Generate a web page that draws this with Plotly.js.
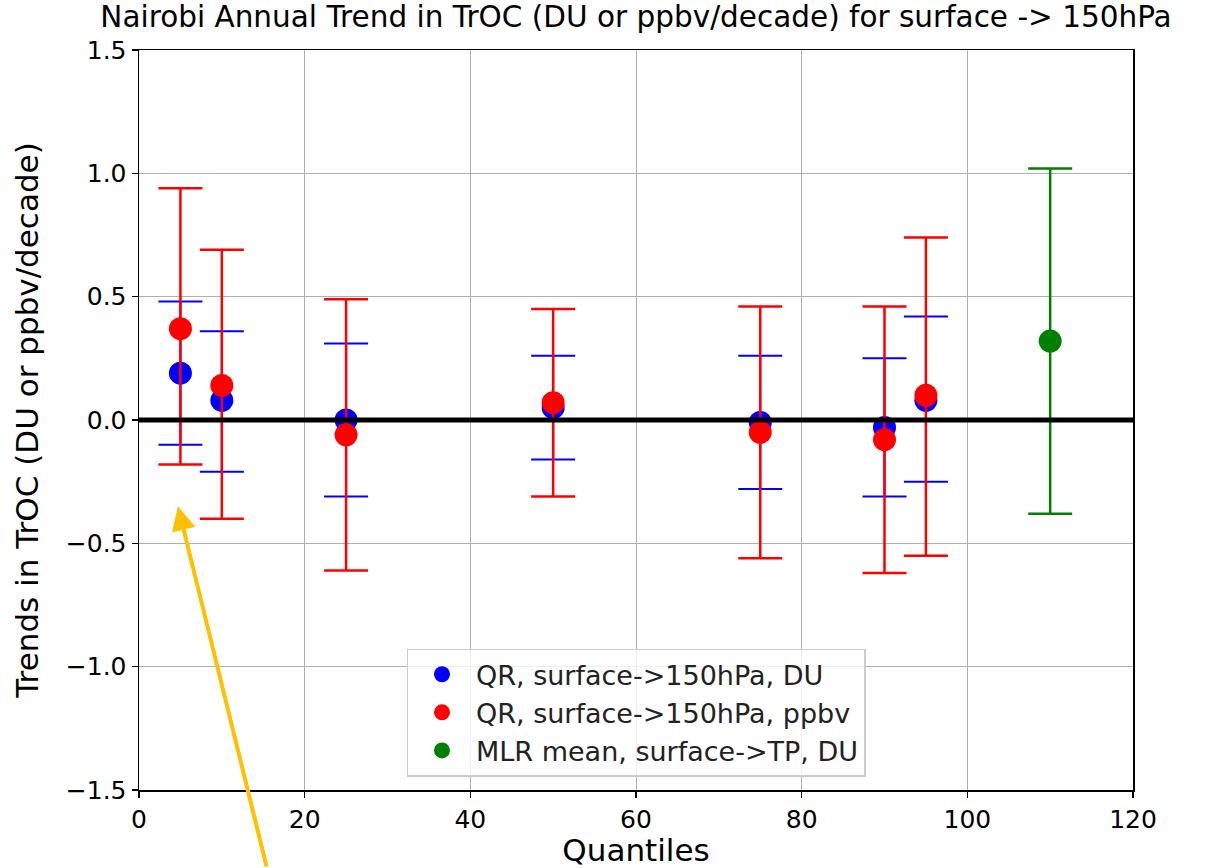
<!DOCTYPE html>
<html>
<head>
<meta charset="utf-8">
<script src="https://cdn.plot.ly/plotly-3.0.1.min.js"></script>
<style>html,body{margin:0;padding:0;background:#fff;}#chart{width:1206px;height:868px;}</style>
</head>
<body>
<div id="chart"></div>
<script>
// Quantile positions
const quantiles = [5, 10, 25, 50, 75, 90, 95];

// QR, surface->150hPa, DU
const duTrend = [0.19, 0.08, 0.00, 0.05, -0.01, -0.03, 0.08];
const duUpper = [0.48, 0.36, 0.31, 0.26, 0.26, 0.25, 0.42];
const duLower = [-0.10, -0.21, -0.31, -0.16, -0.28, -0.31, -0.25];

// QR, surface->150hPa, ppbv
const ppbvTrend = [0.37, 0.14, -0.06, 0.07, -0.05, -0.08, 0.10];
const ppbvUpper = [0.94, 0.69, 0.49, 0.45, 0.46, 0.46, 0.74];
const ppbvLower = [-0.18, -0.40, -0.61, -0.31, -0.56, -0.62, -0.55];

// MLR mean, surface->TP, DU
const mlrX = [110];
const mlrTrend = [0.32];
const mlrUpper = [1.02];
const mlrLower = [-0.38];

const xTicks = [0, 20, 40, 60, 80, 100, 120];
const yTicks = [-1.5, -1.0, -0.5, 0.0, 0.5, 1.0, 1.5];

function errs(vals, up, lo) {
  return {
    plus: up.map((u, i) => u - vals[i]),
    minus: vals.map((v, i) => v - lo[i])
  };
}

function makeTrace(x, y, up, lo, color, name, thick) {
  const e = errs(y, up, lo);
  return {
    type: 'scatter', mode: 'markers', x: x, y: y, name: name,
    marker: {color: color, size: 23},
    error_y: {type: 'data', symmetric: false, array: e.plus, arrayminus: e.minus,
              color: color, thickness: thick, width: 22},
    cliponaxis: false
  };
}

const traces = [
  makeTrace(quantiles, duTrend, duUpper, duLower, 'blue', 'QR, surface->150hPa, DU', 2),
  makeTrace(quantiles, ppbvTrend, ppbvUpper, ppbvLower, 'red', 'QR, surface->150hPa, ppbv', 2.5),
  makeTrace(mlrX, mlrTrend, mlrUpper, mlrLower, 'green', 'MLR mean, surface->TP, DU', 2.5)
];

const font = 'DejaVu Sans, sans-serif';
const layout = {
  width: 1206, height: 868,
  paper_bgcolor: '#ffffff', plot_bgcolor: '#ffffff',
  margin: {l: 139, r: 73, t: 50, b: 78},
  font: {family: font, size: 25, color: '#000'},
  title: {text: 'Nairobi Annual Trend in TrOC (DU or ppbv/decade) for surface -> 150hPa',
          font: {family: font, size: 29.5, color: '#000'},
          x: 0.5, xref: 'paper', y: 0.981, yref: 'container', yanchor: 'middle'},
  xaxis: {
    range: [0, 120], tickvals: xTicks, ticks: 'outside', ticklen: 6, tickwidth: 1.5,
    tickcolor: '#000', showline: true, linecolor: '#000', linewidth: 1.5, mirror: true,
    showgrid: true, gridcolor: '#b0b0b0', gridwidth: 1, zeroline: false,
    tickfont: {family: font, size: 25},
    title: {text: 'Quantiles', font: {family: font, size: 31}, standoff: 7}
  },
  yaxis: {
    range: [-1.5, 1.5], tickvals: yTicks, tickformat: '.1f', ticks: 'outside', ticklen: 6, tickwidth: 1.5,
    tickcolor: '#000', showline: true, linecolor: '#000', linewidth: 1.5, mirror: true,
    showgrid: true, gridcolor: '#b0b0b0', gridwidth: 1, zeroline: false,
    tickfont: {family: font, size: 25},
    title: {text: 'Trends in TrOC (DU or ppbv/decade)', font: {family: font, size: 31}, standoff: 18}
  },
  shapes: [{type: 'line', xref: 'paper', x0: 0, x1: 1, yref: 'y', y0: 0, y1: 0,
            line: {color: '#000', width: 5}, layer: 'above'}],
  legend: {
    x: 0.5, xanchor: 'center', y: 0.018, yanchor: 'bottom',
    bgcolor: 'rgba(255,255,255,0.8)', bordercolor: '#cccccc', borderwidth: 1.5,
    font: {family: font, size: 27, color: '#222'}, itemwidth: 58
  },
  annotations: [{
    xref: 'x', yref: 'y', x: 4.7, y: -0.35, text: '', showarrow: true,
    ax: 89, ay: 362, axref: 'pixel', ayref: 'pixel',
    arrowcolor: '#FFC000', arrowwidth: 4, arrowhead: 2, arrowsize: 1.2
  }],
  showlegend: true
};

Plotly.newPlot('chart', traces, layout, {displayModeBar: false, staticPlot: true});
</script>
</body>
</html>
